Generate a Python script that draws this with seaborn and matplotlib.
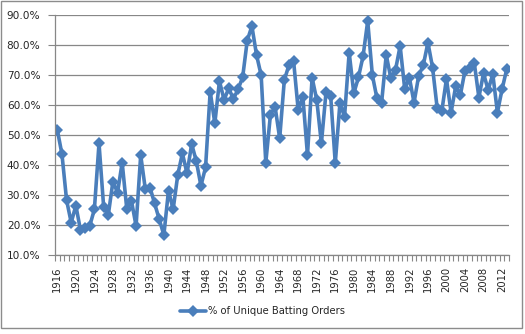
import matplotlib
matplotlib.use("Agg")
import matplotlib.pyplot as plt
import matplotlib.ticker as mticker
from matplotlib.patches import Rectangle
import numpy as np
import pandas as pd
import seaborn as sns

years = list(range(1916, 2014))
pct_unique = [
    51.8, 43.7, 28.4, 20.9, 26.6, 18.4, 19.2, 19.8, 25.3, 47.3,
    26.2, 23.4, 34.6, 30.9, 40.9, 25.4, 28.2, 19.8, 43.4, 32.0,
    32.6, 27.3, 22.0, 16.8, 31.6, 25.3, 36.8, 44.0, 37.3, 47.1,
    41.4, 33.2, 39.3, 64.6, 54.0, 68.1, 61.8, 65.7, 62.1, 65.3,
    69.3, 81.6, 86.4, 76.8, 70.0, 40.9, 56.8, 59.6, 49.0, 68.4,
    73.4, 74.8, 58.4, 62.9, 43.4, 69.2, 61.8, 47.3, 64.3, 63.2,
    40.7, 60.7, 56.2, 77.6, 64.0, 69.3, 76.4, 88.1, 70.1, 62.3,
    60.9, 76.8, 69.0, 71.8, 79.8, 65.3, 69.2, 60.9, 69.8, 73.4,
    80.9, 72.6, 59.0, 58.1, 68.8, 57.6, 66.4, 63.4, 71.6, 72.3,
    74.2, 62.6, 70.7, 65.1, 70.4, 57.6, 65.3, 72.0,
]
series_label = "% of Unique Batting Orders"
label_years = list(range(1916, 2013, 4))

df = pd.DataFrame({"year": years, "pct": np.array(pct_unique) / 100.0})

sns.set_style("white")
plt.rcParams["font.family"] = ["DejaVu Sans"]

W, H = 525, 334
fig = plt.figure(figsize=(W / 100, H / 100), dpi=100)
ax = fig.add_axes([55 / W, (H - 255.3) / H, (509 - 55) / W, (255.3 - 15.3) / H])

line_color = "#4A7EBB"
grid_color = "#878787"

sns.lineplot(data=df, x="year", y="pct", ax=ax, color=line_color,
             linewidth=2.6, marker="D", markersize=6, markeredgewidth=0,
             label=series_label, legend=False)

ax.set_xlim(years[0] - 0.5, years[-1] + 0.5)
ax.set_ylim(0.1, 0.9)
ax.yaxis.set_major_locator(mticker.MultipleLocator(0.1))
ax.yaxis.set_major_formatter(mticker.FuncFormatter(lambda v, p: f"{v*100:.1f}%"))
ax.grid(axis="y", color=grid_color, linewidth=0.9)
ax.grid(axis="x", visible=False)
ax.set_axisbelow(True)

ax.set_xticks(label_years)
ax.set_xticklabels([str(y) for y in label_years], rotation=90, fontsize=7.2)
ax.set_xticks(np.arange(years[0] - 0.5, years[-1] + 1.0, 1.0), minor=True)
ax.tick_params(axis="x", which="major", length=0, pad=8)
ax.tick_params(axis="x", which="minor", length=4, width=0.8, color=grid_color,
               direction="out", bottom=True)
ax.tick_params(axis="y", which="major", length=5, width=0.8, color=grid_color,
               direction="out", left=True, labelsize=7.6, pad=5.5)
ax.set_xlabel("")
ax.set_ylabel("")

for s in ["top", "right"]:
    ax.spines[s].set_visible(False)
for s in ["left", "bottom"]:
    ax.spines[s].set_color(grid_color)
    ax.spines[s].set_linewidth(0.9)

handles, labels = ax.get_legend_handles_labels()
fig.legend(handles, labels, loc="center", bbox_to_anchor=(0.5, (H - 311) / H),
           frameon=False, fontsize=7.2, handlelength=2.6, handletextpad=0.3)

fig.patches.append(Rectangle((1 / W, (H - 328) / H), (522 - 1) / W, (328 - 1) / H,
                             transform=fig.transFigure, fill=False,
                             edgecolor="#8C8C8C", linewidth=1.0))

fig.savefig("out.png", dpi=100)
